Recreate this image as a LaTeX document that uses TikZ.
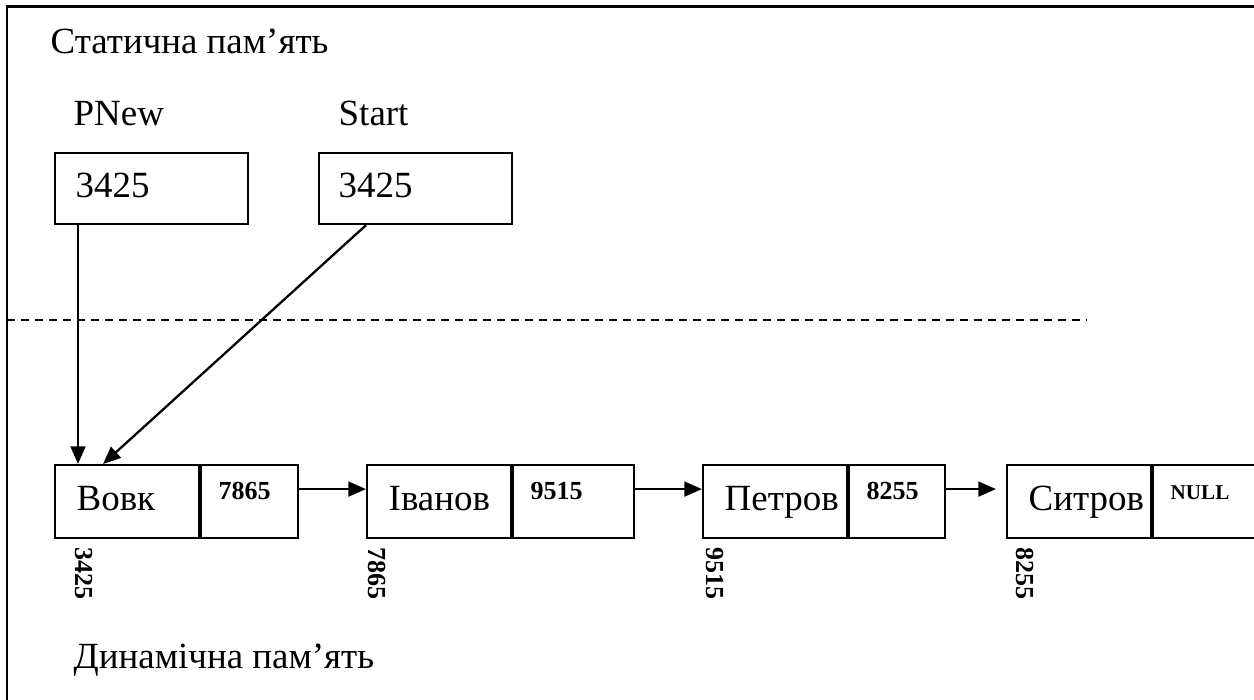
\documentclass[tikz,border=0pt]{standalone}
\usepackage{fontspec}
\setmainfont{Liberation Serif}
\usetikzlibrary{arrows.meta}
\newcommand{\nullval}{{\fontsize{6}{7}\selectfont NULL}}

\begin{document}
\begin{tikzpicture}[x=0.01cm, y=-0.01cm,
  big/.style={font=\fontsize{10.5}{12}\selectfont, inner sep=0pt},
  num/.style={font=\fontsize{7.4}{9}\selectfont\bfseries, inner sep=0pt},
  cell/.style={draw, line width=0.6pt, minimum height=0.73cm, inner sep=0pt},
  ptr/.style={-{Triangle[length=5pt, width=4.2pt]}, line width=0.65pt}]
  \useasboundingbox (0,0) rectangle (1254,699);
  % frame
  \coordinate (ftr) at (1270,6);
  \coordinate (ftl) at (7,6);
  \coordinate (fbl) at (7,715);
  \draw[line width=0.85pt] (ftr) -- (ftl) -- (fbl);
  \node[big, anchor=base west] (static) at (50,53) {Статична пам’ять};
  \node[big, anchor=base west] (dynamic) at (73,668) {Динамічна пам’ять};
  % pointer variables
  \node[big, anchor=base west] (pnew-l) at (73,125) {PNew};
  \node[big, anchor=base west] (start-l) at (338,125) {Start};
  \node[cell, minimum width=1.93cm, minimum height=0.71cm, anchor=north west] (pnew) at (54,152) {};
  \node[cell, minimum width=1.93cm, minimum height=0.71cm, anchor=north west] (start) at (318,152) {};
  \node[big, anchor=base west] (pnew-v) at (75,197) {3425};
  \node[big, anchor=base west] (start-v) at (338,197) {3425};
  % separator
  \coordinate (sepl) at (7,320);
  \coordinate (sepr) at (1086,320);
  \draw[dash pattern=on 0.08cm off 0.06cm, line width=0.6pt] (sepl) -- (sepr);
  % list elements
  \foreach \n/\x/\w/\nm/\p/\a/\ax in {
    vovk/54/0.97cm/Вовк/7865/3425/84,
    ivanov/366/1.21cm/Іванов/9515/7865/377,
    petrov/702/0.96cm/Петров/8255/9515/715,
    sytrov/1006/1.04cm/Ситров/\nullval/8255/1025} {
    \node[cell, minimum width=1.44cm, anchor=north west] (\n) at (\x,464) {};
    \node[cell, minimum width=\w, anchor=west] (\n-p) at (\n.east) {};
    \node[big, anchor=base west] (\n-t) at (\x+22,510) {\nm};
    \node[num, anchor=base west] (\n-v) at (\x+164,499) {\p};
    \node[num, rotate=-90, anchor=west] (\n-a) at (\ax,547) {\a};
  }
  \foreach \a/\b/\s in {vovk/ivanov/0pt, ivanov/petrov/0pt, petrov/sytrov/0.1cm} {
    \draw[ptr, shorten >=\s] ([yshift=0.125cm]\a-p.east) -- ([yshift=0.125cm]\b.west);
  }
  \draw[ptr] ([xshift=0.24cm]pnew.south west) -- ([xshift=0.24cm]vovk.north west);
  \draw[ptr] ([xshift=0.48cm]start.south west) -- ([xshift=0.49cm]vovk.north west);
\end{tikzpicture}
\end{document}
